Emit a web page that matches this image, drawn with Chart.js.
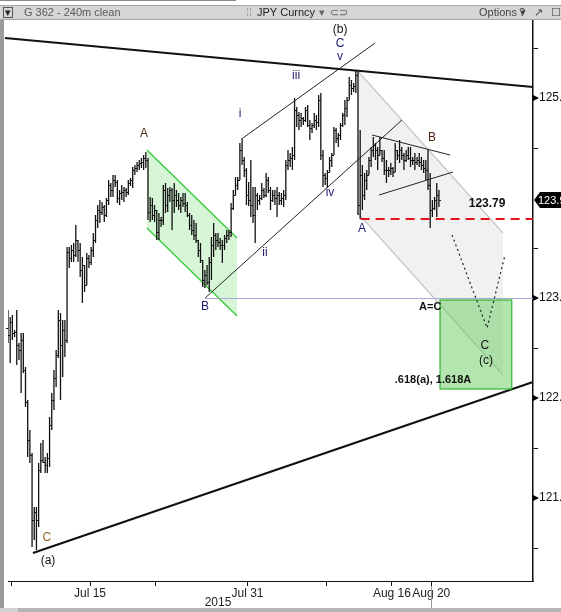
<!DOCTYPE html>
<html>
<head>
<meta charset="utf-8">
<script src="https://cdn.jsdelivr.net/npm/chart.js@4.4.1/dist/chart.umd.min.js"></script>
<style>
  html, body { margin: 0; padding: 0; background: #fff; }
  #wrap { width: 561px; height: 612px; }
</style>
</head>
<body>
<div id="wrap"><canvas id="c" width="561" height="612"></canvas></div>
<script>
// JPY Curncy, 240m bars (6 per trading day), bar 0 = Jul 7 2015
const highs = [
  122.88, 122.81, 122.83, 122.68, 122.88, 122.55, 122.65, 122.65, 122.31, 121.98,
  121.68, 121.45, 120.91, 120.91, 121.35, 121.55, 121.58, 121.41, 121.45, 121.81,
  122.05, 122.28, 122.48, 122.88, 122.85, 122.78, 122.78, 123.51, 123.51, 123.53,
  123.55, 123.73, 123.58, 123.55, 123.41, 123.33, 123.45, 123.43, 123.51, 123.65,
  123.83, 123.93, 123.98, 123.96, 123.93, 124.00, 124.18, 124.15, 124.23, 124.23,
  124.18, 124.08, 124.13, 124.11, 124.10, 124.18, 124.20, 124.31, 124.33, 124.36,
  124.38, 124.40, 124.43, 124.46, 124.40, 124.01, 124.00, 123.93, 123.88, 123.85,
  123.81, 124.13, 124.15, 124.10, 124.11, 124.10, 124.15, 124.08, 124.05, 124.01,
  124.05, 124.05, 123.96, 123.85, 123.83, 123.78, 123.75, 123.58, 123.55, 123.38,
  123.28, 123.33, 123.41, 123.61, 123.75, 123.65, 123.65, 123.60, 123.58, 123.63,
  123.68, 123.68, 123.95, 124.08, 124.21, 124.21, 124.55, 124.60, 124.41, 124.30,
  124.16, 124.38, 124.11, 124.11, 124.05, 124.03, 124.15, 124.10, 124.25, 124.21,
  124.11, 124.08, 124.08, 124.11, 124.06, 124.05, 124.08, 124.38, 124.48, 124.45,
  124.51, 125.00, 124.91, 124.86, 124.85, 124.81, 124.91, 124.93, 124.78, 124.75,
  124.85, 124.83, 125.03, 125.05, 124.48, 124.25, 124.28, 124.41, 124.45, 124.71,
  124.70, 124.65, 124.75, 124.85, 124.98, 125.01, 125.21, 125.18, 125.15, 125.28,
  125.26, 124.68, 124.33, 124.25, 124.28, 124.41, 124.51, 124.61, 124.55, 124.51,
  124.61, 124.48, 124.48, 124.38, 124.31, 124.35, 124.31, 124.55, 124.48, 124.58,
  124.51, 124.45, 124.48, 124.51, 124.51, 124.41, 124.45, 124.41, 124.45, 124.41,
  124.38, 124.38, 124.48, 124.25, 123.98, 124.01, 124.15, 124.08,
]
const lows = [
  122.55, 122.35, 122.58, 122.61, 122.33, 122.38, 122.05, 122.25, 121.91, 121.41,
  121.35, 120.51, 120.58, 120.48, 120.71, 121.25, 121.35, 121.25, 121.25, 121.31,
  121.68, 121.88, 122.11, 122.40, 121.98, 122.21, 122.41, 122.55, 123.30, 123.36,
  123.36, 123.41, 123.36, 123.21, 122.95, 123.06, 123.13, 123.30, 123.33, 123.41,
  123.55, 123.70, 123.75, 123.83, 123.76, 123.81, 123.93, 124.01, 124.01, 124.11,
  123.95, 123.93, 123.98, 123.96, 124.01, 124.03, 124.12, 124.10, 124.23, 124.26,
  124.28, 124.30, 124.28, 124.30, 123.78, 123.76, 123.78, 123.76, 123.58, 123.58,
  123.71, 123.73, 123.85, 123.86, 123.96, 123.68, 123.85, 123.91, 123.88, 123.85,
  123.91, 123.86, 123.81, 123.68, 123.63, 123.58, 123.55, 123.41, 123.35, 123.11,
  123.10, 123.13, 123.06, 123.18, 123.41, 123.48, 123.51, 123.48, 123.35, 123.48,
  123.55, 123.58, 123.61, 123.88, 124.03, 124.08, 124.18, 124.33, 124.21, 123.93,
  123.92, 123.81, 123.75, 123.55, 123.88, 123.93, 123.98, 124.00, 124.01, 124.05,
  123.88, 123.96, 123.93, 123.81, 123.93, 123.93, 123.91, 123.98, 124.28, 124.31,
  124.28, 124.38, 124.71, 124.68, 124.71, 124.73, 124.76, 124.71, 124.58, 124.65,
  124.70, 124.68, 124.71, 124.38, 124.11, 124.13, 124.11, 124.26, 124.31, 124.43,
  124.55, 124.51, 124.58, 124.71, 124.73, 124.81, 124.98, 125.03, 125.06, 125.05,
  123.83, 123.79, 123.88, 123.98, 124.08, 124.23, 124.31, 124.41, 124.38, 124.28,
  124.43, 124.36, 124.23, 124.15, 124.21, 124.23, 124.21, 124.26, 124.38, 124.35,
  124.38, 124.28, 124.36, 124.38, 124.31, 124.33, 124.28, 124.33, 124.31, 124.28,
  124.25, 124.18, 124.08, 123.70, 123.81, 123.88, 123.81, 123.91,
]
const closes = [
  122.63, 122.76, 122.65, 122.66, 122.53, 122.48, 122.58, 122.28, 121.96, 121.58,
  121.43, 120.78, 120.86, 120.78, 121.28, 121.38, 121.36, 121.33, 121.40, 121.73,
  121.98, 122.20, 122.43, 122.78, 122.53, 122.68, 122.58, 123.46, 123.40, 123.48,
  123.43, 123.58, 123.48, 123.28, 123.33, 123.13, 123.40, 123.36, 123.48, 123.58,
  123.78, 123.88, 123.86, 123.91, 123.83, 123.98, 124.13, 124.08, 124.18, 124.16,
  124.00, 124.05, 124.06, 124.08, 124.06, 124.15, 124.18, 124.28, 124.30, 124.33,
  124.35, 124.36, 124.40, 124.38, 123.86, 123.93, 123.83, 123.88, 123.66, 123.78,
  123.78, 124.08, 123.93, 124.03, 124.08, 123.98, 124.03, 123.98, 123.93, 123.98,
  123.95, 123.93, 123.83, 123.73, 123.68, 123.63, 123.58, 123.48, 123.38, 123.18,
  123.23, 123.16, 123.36, 123.53, 123.63, 123.58, 123.56, 123.53, 123.53, 123.60,
  123.63, 123.66, 123.90, 124.03, 124.13, 124.18, 124.48, 124.38, 124.28, 124.03,
  123.98, 123.93, 123.83, 124.03, 123.98, 124.00, 124.08, 124.03, 124.18, 124.08,
  123.98, 124.03, 124.00, 124.03, 123.98, 124.00, 124.03, 124.33, 124.38, 124.40,
  124.43, 124.88, 124.83, 124.78, 124.80, 124.78, 124.88, 124.73, 124.70, 124.73,
  124.78, 124.76, 124.98, 124.43, 124.23, 124.20, 124.26, 124.38, 124.43, 124.68,
  124.60, 124.63, 124.73, 124.83, 124.90, 124.98, 125.13, 125.10, 125.12, 125.23,
  123.93, 124.23, 124.03, 124.18, 124.23, 124.38, 124.48, 124.53, 124.48, 124.43,
  124.48, 124.40, 124.28, 124.28, 124.28, 124.30, 124.26, 124.48, 124.43, 124.48,
  124.43, 124.38, 124.43, 124.40, 124.38, 124.38, 124.36, 124.38, 124.36, 124.33,
  124.30, 124.28, 124.13, 123.88, 123.90, 123.98, 124.03, 123.98,
]
// fx bars open where the previous one closed
const opens = [122.70].concat(closes.slice(0, -1))

const tickVals = [1.5, 37.5, 67.5, 109.5, 145.5, 175.5, 193.5]
const tickLabels = ['', 'Jul 15', '', 'Jul 31', '', 'Aug 16', 'Aug 20']
const priceTicks = [120.5, 121, 121.5, 122, 122.5, 123, 123.5, 124, 124.5, 125, 125.5]

// drawing on top of the bars, all in [bar index, price]
const trendLines = [
  [[-1.4, 125.60], [240, 125.11]],
  [[11.4, 120.45], [240, 122.16]],
]
const waveLines = [
  [[107.4, 124.60], [167.8, 125.55]],
  [[90.1, 123.00], [180.1, 124.78]],
  [[166.4, 124.63], [202.1, 124.43]],
  [[169.6, 124.03], [203.4, 124.26]],
]
const projection = [[203, 123.63], [219, 122.70], [227.2, 123.43]]
const greenChannel = [[63.5, 124.48], [104.7, 123.60], [104.7, 122.82], [63.5, 123.70]]
const grayChannel = [[159.5, 125.28], [226.3, 123.65], [226.3, 122.23], [159.5, 123.86]]
const targetBox = [[197.5, 122.98], [230.3, 122.09]]
const levelB = [90.3, 123.00]
const levelA = [161.2, 123.79]
const labels = [
  ['(b)', 151.8, 125.68, 'dark'], ['C', 151.8, 125.54, 'navy'], ['v', 151.8, 125.41, 'navy'],
  ['iii', 131.7, 125.22, 'navy'], ['i', 106.1, 124.84, 'navy'], ['ii', 117.5, 123.45, 'navy'],
  ['iv', 147.2, 124.05, 'navy'], ['A', 62.2, 124.64, 'brown'], ['B', 90.1, 122.91, 'navy'],
  ['A', 161.8, 123.69, 'navy'], ['B', 193.8, 124.60, 'brown'], ['C', 17.8, 120.60, 'gold'],
  ['(a)', 18.3, 120.37, 'dark'], ['A=C', 193, 122.91, 'bold'], ['C', 218, 122.52, 'dark'],
  ['(c)', 218.5, 122.37, 'dark'], ['123.79', 219, 123.94, 'big'],
  ['.618(a), 1.618A', 194.3, 122.18, 'bold'],
]
const labelStyle = {
  dark: ['12px "Liberation Sans"', '#111'],
  navy: ['12px "Liberation Sans"', '#1b1b6e'],
  brown: ['12px "Liberation Sans"', '#4a2414'],
  gold: ['12px "Liberation Sans"', '#8a6a1c'],
  bold: ['bold 11px "Liberation Sans"', '#111'],
  big: ['bold 12px "Liberation Sans"', '#111'],
}

function toPx(chart, list) {
  const { x, y } = chart.scales
  return list.map(([v, p]) => [x.getPixelForValue(v), y.getPixelForValue(p)])
}

function tracePath(ctx, points, close) {
  ctx.beginPath()
  points.forEach(([px, py], i) => (i ? ctx.lineTo(px, py) : ctx.moveTo(px, py)))
  if (close) ctx.closePath()
}

function segment(ctx, a, b) {
  ctx.beginPath()
  ctx.moveTo(a[0], a[1])
  ctx.lineTo(b[0], b[1])
  ctx.stroke()
}

const annotations = {
  id: 'annotations',
  beforeDatasetsDraw(chart) {
    const { ctx, chartArea } = chart
    const { x, y } = chart.scales
    ctx.save()

    const g = toPx(chart, grayChannel)
    tracePath(ctx, g, true)
    ctx.fillStyle = '#f1f1f1'
    ctx.fill()
    ctx.strokeStyle = '#c6c6c6'
    ctx.lineWidth = 1.2
    segment(ctx, g[0], g[1])
    segment(ctx, g[3], g[2])

    const gc = toPx(chart, greenChannel)
    tracePath(ctx, gc, true)
    ctx.fillStyle = 'rgba(150, 232, 150, 0.38)'
    ctx.fill()
    ctx.strokeStyle = '#3fcc3f'
    ctx.lineWidth = 1.5
    segment(ctx, gc[0], gc[1])
    segment(ctx, gc[3], gc[2])

    const yb = Math.round(y.getPixelForValue(levelB[1])) + 0.5
    ctx.strokeStyle = '#aaaad6'
    ctx.lineWidth = 1
    segment(ctx, [x.getPixelForValue(levelB[0]), yb], [chartArea.right, yb])
    ctx.restore()
  },
  afterDatasetsDraw(chart) {
    const { ctx, chartArea } = chart
    const { x, y } = chart.scales
    ctx.save()

    // open / close ticks of the bars
    ctx.strokeStyle = '#111'
    ctx.lineWidth = 1
    ctx.beginPath()
    closes.forEach((c, i) => {
      const px = x.getPixelForValue(i)
      const yo = Math.round(y.getPixelForValue(opens[i])) + 0.5
      const yc = Math.round(y.getPixelForValue(c)) + 0.5
      ctx.moveTo(px - 2, yo)
      ctx.lineTo(px, yo)
      ctx.moveTo(px, yc)
      ctx.lineTo(px + 2, yc)
    })
    ctx.stroke()

    ctx.strokeStyle = '#111'
    ctx.lineWidth = 2.2
    trendLines.forEach((l) => {
      const p = toPx(chart, l)
      segment(ctx, p[0], p[1])
    })

    ctx.strokeStyle = '#222'
    ctx.lineWidth = 1
    waveLines.forEach((l) => {
      const p = toPx(chart, l)
      segment(ctx, p[0], p[1])
    })

    const ya = Math.round(y.getPixelForValue(levelA[1]))
    ctx.strokeStyle = '#e3141b'
    ctx.lineWidth = 2
    ctx.setLineDash([9, 6])
    segment(ctx, [x.getPixelForValue(levelA[0]), ya], [chartArea.right, ya])

    ctx.setLineDash([])
    const b = toPx(chart, targetBox)
    ctx.fillStyle = 'rgba(104, 204, 96, 0.5)'
    ctx.fillRect(b[0][0], b[0][1], b[1][0] - b[0][0], b[1][1] - b[0][1])
    ctx.strokeStyle = '#33b233'
    ctx.lineWidth = 1.2
    ctx.strokeRect(b[0][0], b[0][1], b[1][0] - b[0][0], b[1][1] - b[0][1])

    ctx.strokeStyle = '#222'
    ctx.lineWidth = 1.2
    ctx.setLineDash([2, 3])
    tracePath(ctx, toPx(chart, projection), false)
    ctx.stroke()
    ctx.setLineDash([])

    ctx.textAlign = 'center'
    ctx.textBaseline = 'middle'
    labels.forEach(([text, v, p, kind]) => {
      const [font, color] = labelStyle[kind]
      ctx.font = font
      ctx.fillStyle = color
      ctx.fillText(text, x.getPixelForValue(v), y.getPixelForValue(p))
    })
    ctx.restore()
  },
  afterDraw(chart) {
    const { ctx, chartArea } = chart
    const { x, y } = chart.scales
    ctx.save()

    // terminal header
    ctx.fillStyle = '#fff'
    ctx.fillRect(0, 0, 561, 5)
    ctx.fillStyle = '#8a8a8a'
    ctx.fillRect(0, 0, 236, 1)
    ctx.fillStyle = '#d6d6d6'
    ctx.fillRect(0, 5, 561, 15)
    ctx.fillStyle = '#a6a6a6'
    ctx.fillRect(0, 5, 561, 1)
    ctx.fillRect(0, 19, 561, 1)
    ctx.strokeStyle = '#555'
    ctx.lineWidth = 1
    ctx.strokeRect(3.5, 7.5, 9, 10)
    ctx.font = '11px "Liberation Sans"'
    ctx.textBaseline = 'middle'
    ctx.textAlign = 'left'
    ctx.fillStyle = '#222'
    ctx.fillText('▾', 5, 12.5)
    ctx.fillStyle = '#5a5a5a'
    ctx.fillText('G 362 - 240m clean', 24, 12.5)
    ctx.fillStyle = '#9a9a9a'
    ctx.fillText('⁞⁞', 246, 12.5)
    ctx.fillStyle = '#222'
    ctx.fillText('JPY Curncy', 257, 12.5)
    ctx.fillStyle = '#666'
    ctx.fillText('▾', 319, 12.5)
    ctx.fillText('⊂⊃', 330, 12.5)
    ctx.fillStyle = '#444'
    ctx.fillText('Options ▾', 479, 12.5)
    ctx.fillText('?', 519, 12.5)
    ctx.fillText('↗', 534, 12.5)
    ctx.fillText('☐', 551, 12.5)

    // frame pieces
    ctx.fillStyle = '#9b9b9b'
    ctx.fillRect(0, 20, 4, 592)
    ctx.fillStyle = '#b4b4b4'
    ctx.fillRect(0, 608, 561, 4)
    ctx.fillStyle = '#d2d2d2'
    ctx.fillRect(0, 608, 18, 4)

    // price markers on the right axis
    ctx.fillStyle = '#000'
    priceTicks.filter((p) => Number.isInteger(p) && p !== 124).forEach((p) => {
      const yy = y.getPixelForValue(p)
      ctx.beginPath()
      ctx.moveTo(chartArea.right, yy - 3)
      ctx.lineTo(chartArea.right + 6, yy)
      ctx.lineTo(chartArea.right, yy + 3)
      ctx.closePath()
      ctx.fill()
    })

    const last = closes[closes.length - 1]
    const yl = Math.round(y.getPixelForValue(last))
    ctx.beginPath()
    ctx.moveTo(chartArea.right + 1, yl)
    ctx.lineTo(chartArea.right + 7, yl - 8)
    ctx.lineTo(561, yl - 8)
    ctx.lineTo(561, yl + 8)
    ctx.lineTo(chartArea.right + 7, yl + 8)
    ctx.closePath()
    ctx.fill()
    ctx.fillStyle = '#fff'
    ctx.font = '11px "Liberation Sans"'
    ctx.fillText(last.toFixed(2), chartArea.right + 5, yl + 0.5)

    // cursor line and year
    const xc = Math.round(x.getPixelForValue(tickVals[6])) + 0.5
    ctx.strokeStyle = '#9a9a9a'
    segment(ctx, [xc, chartArea.bottom + 5], [xc, 608])
    ctx.fillStyle = '#222'
    ctx.font = '12px "Liberation Sans"'
    ctx.textAlign = 'center'
    ctx.fillText('2015', 218, 603)
    ctx.restore()
  },
}

new Chart(document.getElementById('c'), {
  type: 'bar',
  data: {
    datasets: [
      {
        data: highs.map((h, i) => ({ x: i, y: [lows[i], h] })),
        backgroundColor: '#111',
        borderWidth: 0,
        barThickness: 1.3,
        inflateAmount: 0,
      },
    ],
  },
  options: {
    responsive: false,
    animation: false,
    devicePixelRatio: 1,
    layout: { padding: { top: 20, left: 8, right: 0, bottom: 0 } },
    plugins: {
      legend: { display: false },
      tooltip: { enabled: false },
    },
    scales: {
      x: {
        type: 'linear',
        min: 0,
        max: 240,
        offset: false,
        afterBuildTicks: (s) => {
          s.ticks = tickVals.map((v) => ({ value: v }))
        },
        afterFit: (s) => {
          s.height = 31
        },
        ticks: {
          autoSkip: false,
          maxRotation: 0,
          padding: 0,
          color: '#222',
          font: { family: 'Liberation Sans', size: 12 },
          callback: (v) => tickLabels[tickVals.indexOf(v)] || '',
        },
        grid: { drawOnChartArea: false, offset: false, tickLength: 5, color: '#111' },
        border: { color: '#111', width: 1 },
      },
      y: {
        type: 'linear',
        position: 'right',
        min: 120.17,
        max: 125.78,
        afterBuildTicks: (s) => {
          s.ticks = priceTicks.map((v) => ({ value: v }))
        },
        afterFit: (s) => {
          s.width = 28
        },
        ticks: {
          autoSkip: false,
          padding: 1,
          color: '#111',
          font: { family: 'Liberation Sans', size: 12 },
          callback: (v) => (Number.isInteger(v) ? v.toFixed(2) : ''),
        },
        grid: {
          drawOnChartArea: false,
          tickLength: 5,
          color: (c) => (c.tick && Number.isInteger(c.tick.value) ? 'rgba(0,0,0,0)' : '#111'),
        },
        border: { color: '#111', width: 1.5 },
      },
    },
  },
  plugins: [annotations],
})
</script>
</body>
</html>
